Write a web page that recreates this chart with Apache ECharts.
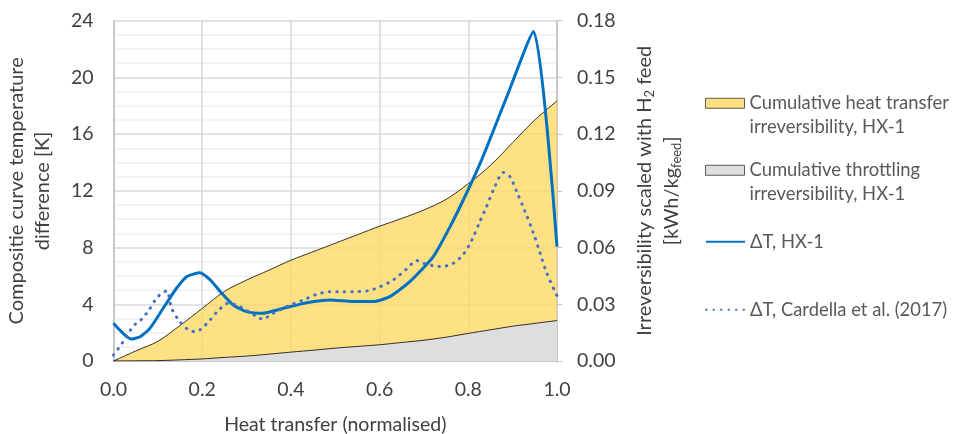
<!DOCTYPE html>
<html>
<head>
<meta charset="utf-8">
<script src="https://cdn.jsdelivr.net/npm/echarts@6/dist/echarts.min.js"></script>
<style>
  html, body { margin: 0; padding: 0; background: #fff; }
  #main { width: 953px; height: 434px; }
</style>
</head>
<body>
<div id="main"></div>
<script>
// x positions for the two cumulative areas (normalised heat transfer)
const areaX = [0, 0.05, 0.1, 0.15, 0.2, 0.25, 0.3, 0.35, 0.4, 0.45, 0.5,
  0.55, 0.6, 0.65, 0.7, 0.75, 0.8, 0.85, 0.9, 0.95, 1.0];
// top edge of the yellow band: heat transfer + throttling irreversibility [kWh/kg_feed]
const heatTop = [0, 0.0053, 0.0104, 0.0188, 0.0278, 0.0368, 0.0428, 0.048, 0.0533, 0.0578, 0.0623,
  0.0668, 0.0713, 0.0754, 0.0799, 0.0855, 0.0938, 0.1035, 0.1155, 0.1275, 0.1376];
// cumulative throttling irreversibility [kWh/kg_feed]
const throttleIrr = [0, 0.0001, 0.0002, 0.0006, 0.0011, 0.0019, 0.0026, 0.0036, 0.0047, 0.0057, 0.0068,
  0.0077, 0.0086, 0.0098, 0.011, 0.0126, 0.0146, 0.0165, 0.0184, 0.0199, 0.0214];

// ΔT, HX-1 [K]
const hxX = [0, 0.04, 0.06, 0.082, 0.112, 0.142, 0.165, 0.195, 0.218, 0.244, 0.27, 0.30, 0.335,
  0.383, 0.436, 0.488, 0.541, 0.586, 0.623, 0.668, 0.721, 0.759, 0.796, 0.83, 0.887, 0.947, 1.0];
const hxDT = [2.66, 1.55, 1.71, 2.3, 3.72, 5.13, 5.95, 6.23, 5.72, 4.78, 3.95, 3.48, 3.36,
  3.72, 4.11, 4.3, 4.19, 4.19, 4.54, 5.6, 7.36, 9.48, 11.83, 14.18, 18.65, 23.24, 8.07];

// ΔT, Cardella et al. (2017) [K]
const cardX = [0, 0.018, 0.033, 0.051, 0.064, 0.081, 0.097, 0.109, 0.12, 0.131, 0.148, 0.169, 0.184,
  0.197, 0.218, 0.236, 0.259, 0.285, 0.323, 0.338, 0.353, 0.375, 0.402, 0.428, 0.458, 0.488, 0.515,
  0.545, 0.575, 0.601, 0.631, 0.661, 0.684, 0.699, 0.725, 0.74, 0.766, 0.789, 0.808, 0.826, 0.841,
  0.86, 0.879, 0.894, 0.909, 0.928, 0.947, 0.962, 0.977, 1.0];
const cardDT = [0.42, 1.18, 1.95, 2.66, 2.96, 3.65, 4.42, 4.78, 4.94, 3.72, 2.85, 2.19, 2.07,
  2.24, 2.9, 3.55, 4.07, 3.83, 3.13, 2.94, 3.25, 3.6, 4.0, 4.3, 4.7, 4.89, 4.89,
  4.89, 4.96, 5.24, 5.72, 6.49, 7.08, 6.89, 6.7, 6.66, 6.89, 7.53, 8.54, 9.83, 10.89,
  12.3, 13.29, 13.0, 11.95, 10.54, 9.01, 7.6, 6.19, 4.61];

const NAME_HEAT = 'Cumulative heat transfer irreversibility, HX-1';
const NAME_THR = 'Cumulative throttling irreversibility, HX-1';
const NAME_HX = 'ΔT, HX-1';
const NAME_CARD = 'ΔT, Cardella et al. (2017)';
// leading blank line so the first text line sits level with the icon
const legendText = {};
legendText[NAME_HEAT] = ' \nCumulative heat transfer\nirreversibility, HX-1';
legendText[NAME_THR] = ' \nCumulative throttling\nirreversibility, HX-1';

const FONT = 'Lato';
const TXT = '#404040';
const pairs = (xs, ys) => xs.map((x, i) => [x, ys[i]]);

const chart = echarts.init(document.getElementById('main'));

// one legend component per entry
function legendFor(name, top, extra) {
  return {
    orient: 'vertical', left: 705, top: top, padding: 0,
    itemWidth: 39, itemHeight: 10, selectedMode: false,
    formatter: n => legendText[n] || n,
    textStyle: { fontFamily: FONT, fontSize: 18.4, color: '#595959', lineHeight: 23.5 },
    data: [Object.assign({ name: name }, extra)]
  };
}

chart.setOption({
  backgroundColor: '#fff',
  animation: false,
  grid: { left: 113.5, right: 396, top: 20.7, bottom: 73, outerBoundsMode: 'none' },
  legend: [
    legendFor(NAME_HEAT, 68, { icon: 'rect', itemStyle: { color: '#FFDF80', borderColor: '#595959', borderWidth: 1 } }),
    legendFor(NAME_THR, 135, { icon: 'rect', itemStyle: { color: '#DEDEDE', borderColor: '#595959', borderWidth: 1 } }),
    legendFor(NAME_HX, 230, { itemStyle: { opacity: 0 } }),
    legendFor(NAME_CARD, 298, { itemStyle: { opacity: 0 } })
  ],
  xAxis: {
    type: 'value', min: 0, max: 1, interval: 0.2,
    name: 'Heat transfer (normalised)', nameLocation: 'middle', nameGap: 54,
    nameTextStyle: { fontFamily: FONT, fontSize: 19.5, color: TXT },
    axisLine: { lineStyle: { color: '#bfbfbf', width: 1.5 } },
    axisTick: { show: false },
    axisLabel: { margin: 19, fontFamily: FONT, fontSize: 19.5, color: TXT, formatter: v => v.toFixed(1) },
    splitLine: { show: true, lineStyle: { color: '#d9d9d9', width: 1.5 } }
  },
  yAxis: [
    {
      type: 'value', min: 0, max: 24, interval: 4,
      name: 'Compositie curve temperature\ndifference [K]', nameLocation: 'middle', nameGap: 58,
      nameTextStyle: { fontFamily: FONT, fontSize: 20, color: TXT, lineHeight: 26 },
      axisLine: { show: true, lineStyle: { color: '#bfbfbf', width: 1.5 } },
      axisTick: { show: false },
      axisLabel: { margin: 20, fontFamily: FONT, fontSize: 19.5, color: TXT },
      splitLine: { lineStyle: { color: '#d9d9d9', width: 1.5 } },
      minorTick: { show: false, splitNumber: 4 },
      minorSplitLine: { show: true, lineStyle: { color: '#f0f0f0', width: 1.5 } }
    },
    {
      type: 'value', min: 0, max: 0.18, interval: 0.03,
      name: '{n|Irreversibility scaled with H}{s|2}{n| feed}\n{n|[kWh/kg}{s|feed}{n|]}',
      nameLocation: 'middle', nameGap: 74,
      nameTextStyle: {
        fontFamily: FONT, fontSize: 20, color: TXT, lineHeight: 27,
        rich: {
          n: { fontFamily: FONT, fontSize: 20, color: TXT },
          s: { fontFamily: FONT, fontSize: 13, color: TXT, padding: [10, 0, 0, 0] }
        }
      },
      axisLine: { show: true, lineStyle: { color: '#bfbfbf', width: 1.5 } },
      axisTick: { show: true, length: 5, lineStyle: { color: '#bfbfbf' } },
      axisLabel: { margin: 20, fontFamily: FONT, fontSize: 19.5, color: TXT, formatter: v => v.toFixed(2) },
      splitLine: { show: false }
    }
  ],
  series: [
    {
      name: NAME_HEAT, type: 'line', yAxisIndex: 1,
      data: pairs(areaX, heatTop), symbol: 'none', smooth: 0.3,
      itemStyle: { color: '#FFDF80' },
      lineStyle: { color: '#000', width: 0.8 },
      areaStyle: { color: '#FFD966', opacity: 0.8 }
    },
    {
      name: NAME_THR, type: 'line', yAxisIndex: 1,
      data: pairs(areaX, throttleIrr), symbol: 'none', smooth: 0.3,
      itemStyle: { color: '#DEDEDE' },
      lineStyle: { color: '#000', width: 0.8 },
      areaStyle: { color: '#DEDEDE', opacity: 1 }
    },
    {
      name: NAME_HX, type: 'line', data: pairs(hxX, hxDT), symbol: 'none', smooth: 0.2,
      itemStyle: { color: '#0070C0' },
      lineStyle: { color: '#0070C0', width: 3 }
    },
    {
      name: NAME_CARD, type: 'line', data: pairs(cardX, cardDT), symbol: 'none', smooth: 0.3,
      itemStyle: { color: '#4472C4' },
      lineStyle: { color: '#4472C4', width: 3, type: [0.5, 7], cap: 'round' }
    }
  ]
});
</script>
</body>
</html>
